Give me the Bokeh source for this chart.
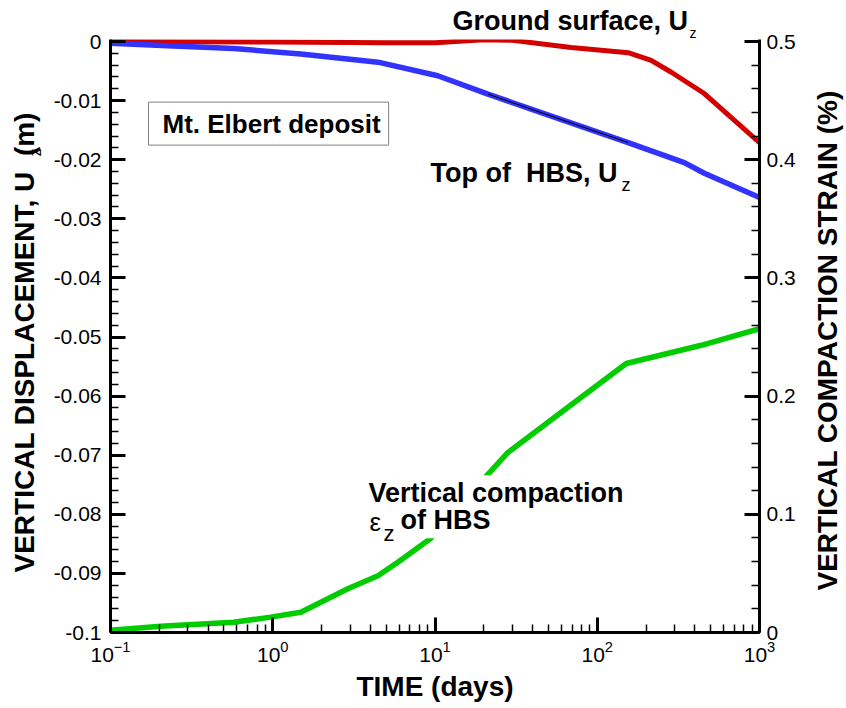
import math
from bokeh.plotting import figure
from bokeh.models import Range1d, LinearAxis, FixedTicker, Label
from bokeh.embed import file_html
from bokeh.resources import INLINE

# ---------------- data ----------------
ground_t = [0.1, 1, 5, 10, 20, 30, 69, 155, 215, 286, 457, 1000]
ground_uz = [0.0, -0.0001, -0.0002, -0.0002, 0.0003, 0.0002, -0.0010, -0.0019,
             -0.0032, -0.0052, -0.0088, -0.0171]

top_t = [0.1, 0.225, 0.575, 1.49, 4.45, 10.4, 21.2, 54.3, 155, 344, 457, 1000]
top_uz = [-0.0003, -0.0007, -0.0012, -0.0021, -0.0035, -0.0058, -0.0089, -0.0128,
          -0.0171, -0.0205, -0.0223, -0.0264]

strain_t = [0.1, 0.204, 0.575, 0.97, 1.49, 2.9, 4.45, 5.9, 9.4, 20, 28, 66, 151, 438, 1000]
strain_pct = [0.002, 0.0053, 0.0087, 0.013, 0.0172, 0.037, 0.048, 0.0595, 0.0795,
              0.130, 0.152, 0.1906, 0.2276, 0.243, 0.257]

x_major = [0.1, 1, 10, 100, 1000]
left_ticks = [0, -0.01, -0.02, -0.03, -0.04, -0.05, -0.06, -0.07, -0.08, -0.09, -0.1]
left_labels = ["0", "-0.01", "-0.02", "-0.03", "-0.04", "-0.05", "-0.06", "-0.07",
               "-0.08", "-0.09", "-0.1"]
right_ticks = [0, 0.1, 0.2, 0.3, 0.4, 0.5]
right_labels = ["0", "0.1", "0.2", "0.3", "0.4", "0.5"]

FONT = "Liberation Sans"

# frame placement (canvas pixels)
F_LEFT, F_RIGHT, F_TOP_TICK, F_BOTTOM = 110, 759, 41, 632
W, H = 846, 708
TOP_PAD = 2  # a little room above the 0 tick so the top curve is not clipped
y_top = 0.1 * TOP_PAD / (F_BOTTOM - F_TOP_TICK)

# ---------------- figure ----------------
p = figure(width=W, height=H, x_axis_type="log",
           x_range=Range1d(0.1, 1000), y_range=Range1d(-0.1, y_top),
           output_backend="svg", toolbar_location=None,
           min_border_left=F_LEFT, min_border_right=W - F_RIGHT,
           min_border_top=F_TOP_TICK - TOP_PAD, min_border_bottom=H - F_BOTTOM)
p.outline_line_color = None
p.grid.visible = False
p.background_fill_color = "white"
p.border_fill_color = "white"
p.extra_y_ranges = {"strain": Range1d(0, 0.5 + 5 * y_top)}

x_minor = [k * d for d in [0.1, 1, 10, 100] for k in range(2, 10)]
left_minor = [-i * 0.002 for i in range(0, 51)]
right_minor = [i * 0.02 for i in range(0, 26)]


def style_axis(ax, size="21px"):
    ax.axis_line_width = 3
    ax.axis_line_color = "black"
    ax.major_tick_in = 15
    ax.major_tick_out = 0
    ax.minor_tick_in = 8
    ax.minor_tick_out = 0
    ax.major_tick_line_width = 3
    ax.minor_tick_line_width = 1.5
    ax.major_tick_line_color = "black"
    ax.minor_tick_line_color = "black"
    ax.major_label_text_font = FONT
    ax.major_label_text_font_size = size
    ax.major_label_text_color = "black"
    ax.major_label_standoff = 9


xa = p.xaxis[0]
xa.ticker = FixedTicker(ticks=x_major, minor_ticks=x_minor)
style_axis(xa)
xa.major_label_standoff = 8

ya = p.yaxis[0]
ya.ticker = FixedTicker(ticks=left_ticks, minor_ticks=left_minor)
ya.major_label_overrides = {v: s for v, s in zip(left_ticks, left_labels)}
style_axis(ya)

ra = LinearAxis(y_range_name="strain")
ra.ticker = FixedTicker(ticks=right_ticks, minor_ticks=right_minor)
ra.major_label_overrides = {v: s for v, s in zip(right_ticks, right_labels)}
style_axis(ra)
ra.major_label_standoff = 7
p.add_layout(ra, "right")

# ---------------- curves ----------------
p.line(ground_t, ground_uz, line_color="#d40000", line_width=5)
p.line(top_t, top_uz, line_color="#3333ff", line_width=5.5)
p.line(top_t[6:9], top_uz[6:9], line_color="black", line_width=1)
p.line(strain_t, strain_pct, line_color="#00cc00", line_width=5.5, y_range_name="strain")


# ---------------- annotations (positions given in canvas pixels) ----------------
def tx(px):
    return 10 ** (-1 + (px - F_LEFT) / ((F_RIGHT - F_LEFT) / 4))


def vy(py):
    return -0.1 * (py - F_TOP_TICK) / (F_BOTTOM - F_TOP_TICK)


def lab(px, py, text, size, bold=True, side=None, rotated=False, **kw):
    s = float(size.rstrip("px"))
    shift = 0.38 * s  # anchor correction so that (px, py) is the baseline point
    if rotated:
        px, kw["angle"] = px - shift, math.pi / 2
    else:
        py = py - shift
    l = Label(x=tx(px), y=vy(py), text=text, text_font=FONT,
              text_font_size=size, text_font_style="bold" if bold else "normal",
              text_color="black", text_align=kw.pop("align", "left"),
              text_baseline="alphabetic", **kw)
    if side is None:
        p.add_layout(l)
    else:
        p.add_layout(l, side)
    return l


# inside the frame
lab(430, 183, "Top of\u00a0\u00a0HBS, U", "27px")
lab(621, 191, "z", "18px", bold=False)
lab(148, 133, "Mt. Elbert deposit", "26px", border_line_color="#808080",
    border_line_width=1, background_fill_color="white",
    padding=dict(left=14, right=8, top=7, bottom=6))
lab(365, 503, "Vertical compaction", "27px", background_fill_color="white", padding=3)
lab(397, 530, "of HBS", "27px", background_fill_color="white", padding=3)
lab(369, 531, "\u03b5", "26px", bold=False)
lab(383, 541, "z", "22px", bold=False)

# outside the frame (kept in side panels so they are not clipped by the frame)
lab(452, 31, "Ground surface, U", "27px", side="above")
lab(689, 38, "z", "14px", bold=False, side="right")
lab(434.5, 697, "TIME (days)", "28px", align="center", side="below")
lab(35, 572, "VERTICAL DISPLACEMENT, U\u00a0\u00a0(m)", "28px", side="left", rotated=True)
lab(41, 156, "z", "16px", bold=False, side="left", rotated=True)
lab(838, 590, "VERTICAL COMPACTION STRAIN (%)", "28px", side="right", rotated=True)

open("out.html", "w").write(file_html(p, INLINE))
